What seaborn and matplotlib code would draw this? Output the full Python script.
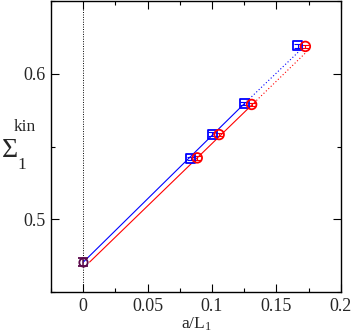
import matplotlib
matplotlib.use("Agg")
import matplotlib.pyplot as plt
from matplotlib.ticker import MultipleLocator
import seaborn as sns

# lattice data (a/L, Sigma_kin), two discretisations
x_blue = [1/12, 1/10, 1/8, 1/6]
y_blue = [0.5417, 0.5585, 0.5794, 0.6191]
x_red = [0.0885, 0.1055, 0.1307, 0.1724]
y_red = [0.5422, 0.5582, 0.5789, 0.6188]
err_pts = [0.0012, 0.0012, 0.0012, 0.0012]

# continuum limit
x_cont = [0.0]
y_cont = [0.4706]
err_cont = [0.0026]

# fit lines: solid part and dotted extension
fit_blue_x = [0.0, 0.125]
fit_blue_y = [0.4705, 0.5794]
ext_blue_x = [0.125, 0.168]
ext_blue_y = [0.5794, 0.6158]
fit_red_x = [0.005, 0.1307]
fit_red_y = [0.4706, 0.5784]
ext_red_x = [0.1307, 0.1724]
ext_red_y = [0.5784, 0.6142]

sns.set_theme(style="ticks")
plt.rcParams['font.family'] = ['Liberation Serif', 'DejaVu Serif']
plt.rcParams['mathtext.fontset'] = 'custom'
plt.rcParams['mathtext.rm'] = 'Liberation Serif'
plt.rcParams['mathtext.it'] = 'Liberation Serif:italic'

fig = plt.figure(figsize=(3.54, 3.33), dpi=100)
ax = fig.add_axes([0.144, 0.123, 0.819, 0.874])

ax.axvline(0, color='black', ls=(0, (1, 1.5)), lw=0.7, zorder=1)

blue = '#0000ff'
red = '#ff0000'
sns.lineplot(x=fit_blue_x, y=fit_blue_y, ax=ax, color=blue, lw=0.8, zorder=2)
sns.lineplot(x=ext_blue_x, y=ext_blue_y, ax=ax, color=blue, lw=0.8, ls=(0, (1, 2)), zorder=2)
sns.lineplot(x=fit_red_x, y=fit_red_y, ax=ax, color=red, lw=0.8, zorder=2)
sns.lineplot(x=ext_red_x, y=ext_red_y, ax=ax, color=red, lw=0.8, ls=(0, (1, 2)), zorder=2)

ax.errorbar(x_blue, y_blue, yerr=err_pts, fmt='none', ecolor=blue, elinewidth=0.8, capsize=3, capthick=0.8, zorder=3)
ax.errorbar(x_red, y_red, yerr=err_pts, fmt='none', ecolor=red, elinewidth=0.8, capsize=3, capthick=0.8, zorder=3)
sns.scatterplot(x=x_blue, y=y_blue, ax=ax, marker='s', s=42, facecolor='none', edgecolor=blue, linewidth=1.3, zorder=4)
sns.scatterplot(x=x_red, y=y_red, ax=ax, marker='o', s=48, facecolor='none', edgecolor=red, linewidth=1.3, zorder=4)

purple = '#5c0a4c'
ax.errorbar(x_cont, y_cont, yerr=err_cont, fmt='o', mfc='none', mec=purple, ms=6, mew=1.3,
            ecolor=purple, elinewidth=1.1, capsize=3.5, capthick=1.1, zorder=5)

ax.set_xlim(-0.025, 0.2)
ax.set_ylim(0.45, 0.65)
ax.xaxis.set_minor_locator(MultipleLocator(0.025))
ax.yaxis.set_minor_locator(MultipleLocator(0.05))
ax.set_xticks([0, 0.05, 0.1, 0.15, 0.2])
ax.set_xticklabels(['0', '0.05', '0.1', '0.15', '0.2'])
ax.set_yticks([0.5, 0.6])
ax.set_yticklabels(['0.5', '0.6'])
ax.tick_params(which='both', direction='in', top=True, right=True, labelsize=13, width=0.8, color='black', pad=4)
ax.tick_params(which='major', length=6)
ax.tick_params(which='minor', length=3)
for sp in ax.spines.values():
    sp.set_linewidth(1.0)
    sp.set_color('black')

ax.set_xlabel(r'$\mathrm{a/L_1}$', fontsize=12.5, labelpad=1)

# y label built from pieces so the Sigma can be bigger than the indices
fig.text(0.006, 0.528, '\u03a3', fontsize=20, ha='left', va='baseline')
fig.text(0.040, 0.607, 'kin', fontsize=12.5, ha='left', va='baseline')
fig.text(0.050, 0.492, '1', fontsize=12.5, ha='left', va='baseline')

fig.savefig('out.png', dpi=100)
